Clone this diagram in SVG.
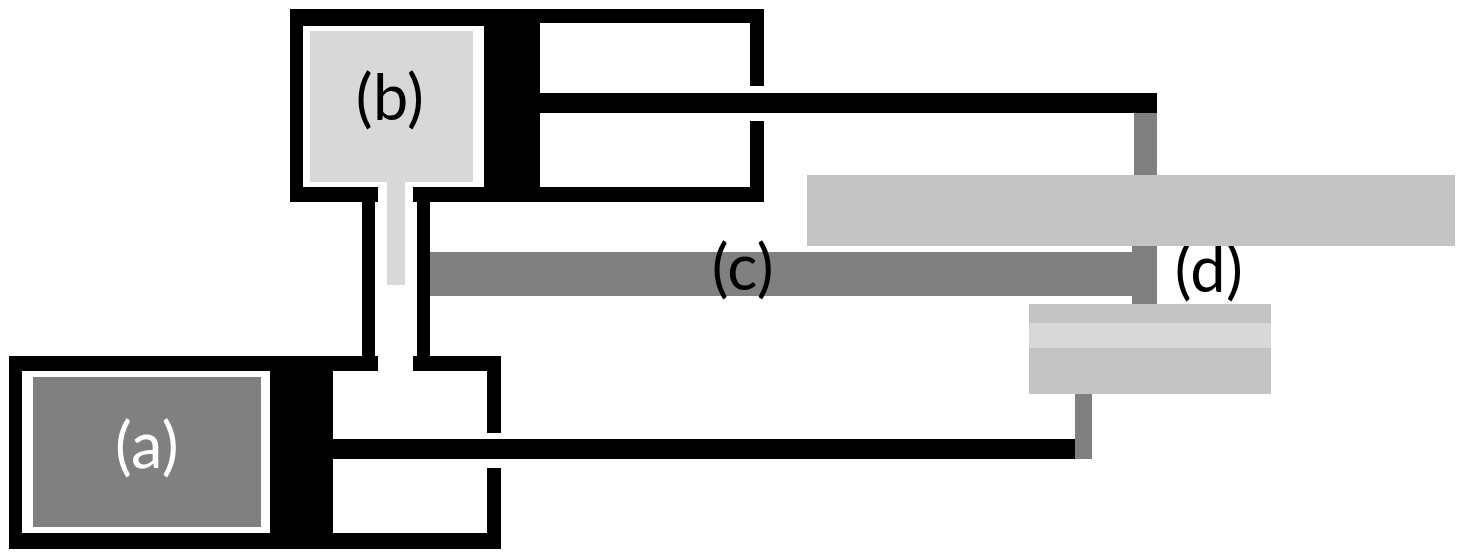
<svg xmlns="http://www.w3.org/2000/svg" width="1469" height="559" viewBox="0 0 1469 559">
<style>
.k{fill:#000}.w{fill:#fff}.g{fill:#808080}.l{fill:#d8d8d8}.m{fill:#c3c3c3}
text{font-family:Lato,"Open Sans","Liberation Sans",sans-serif;font-size:63px;letter-spacing:0.5px;text-anchor:middle}
</style>
<rect class="w" width="1469" height="559"/>
<g id="connectors">
<rect class="g" x="430" y="252" width="710" height="44"/>
<rect class="g" x="1134" y="113" width="23" height="70"/>
<rect class="g" x="1132" y="240" width="25" height="70"/>
<rect class="g" x="1075" y="390" width="17" height="69"/>
<rect class="k" x="362" y="200" width="13" height="158"/>
<rect class="k" x="417" y="200" width="13" height="158"/>
<rect class="k" x="530" y="93" width="627" height="20"/>
<rect class="k" x="325" y="439" width="750" height="20"/>
</g>
<g id="node-b">
<path class="k" d="M290 9H764V86H750V23H540V187H750V121H764V202H413V187H484V26H303V187H378V202H290Z"/>
<rect class="l" x="310" y="31" width="163" height="151"/>
<rect class="l" x="387" y="182" width="18" height="103"/>
<text x="390" y="120" fill="#000">(b)</text>
</g>
<g id="node-a">
<path class="k" d="M9 356H378V371H333V533H487V468H501V549H9ZM22 371V533H270V371ZM413 356H501V433H487V371H413Z" fill-rule="evenodd"/>
<rect class="g" x="33" y="377" width="228" height="150"/>
<text x="147" y="468" fill="#fff">(a)</text>
</g>
<g id="node-c">
<text x="743" y="290" fill="#000">(c)</text>
</g>
<g id="node-d">
<text x="1209" y="292" fill="#000">(d)</text>
<rect class="m" x="807" y="175" width="648" height="71"/>
<rect class="m" x="1029" y="304" width="242" height="90"/>
<rect class="l" x="1029" y="323" width="242" height="25"/>
</g>
</svg>
